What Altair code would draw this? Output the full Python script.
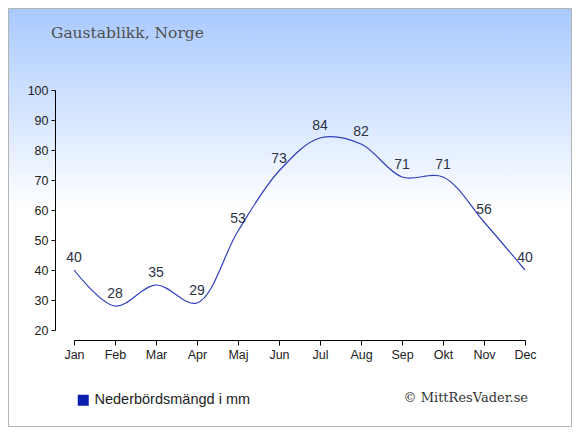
import altair as alt
import pandas as pd

months = ["Jan", "Feb", "Mar", "Apr", "Maj", "Jun", "Jul", "Aug", "Sep", "Okt", "Nov", "Dec"]
precip = [40, 28, 35, 29, 53, 73, 84, 82, 71, 71, 56, 40]
series_name = "Nederbördsmängd i mm"
title_text = "Gaustablikk, Norge"
credit_text = "© MittResVader.se"

df = pd.DataFrame({"idx": list(range(len(months))), "month": months, "value": precip,
                   "series": [series_name] * len(months)})

label_expr = "[" + ",".join(f"'{m}'" for m in months) + "][datum.value]"

axis_style = dict(grid=False, domainColor="#000", tickColor="#000", labelColor="#222",
                  labelFont="Liberation Sans", labelFontSize=12.5, labelPadding=3,
                  labelOverlap=False, labelBound=False, labelFlush=False, zindex=2)

xenc = alt.X("idx:Q", scale=alt.Scale(domain=[0, 11], nice=False, zero=False),
             axis=alt.Axis(title=None, values=list(range(12)), labelExpr=label_expr,
                           offset=10, tickSize=5, **axis_style))
yenc = alt.Y("value:Q", scale=alt.Scale(domain=[20, 100], nice=False, zero=False),
             axis=alt.Axis(title=None, values=list(range(20, 101, 10)), offset=19,
                           tickSize=4, **axis_style))

one = pd.DataFrame({"a": [0]})

bg = alt.Chart(one).mark_rect(
    fill=alt.Gradient(gradient="linear",
                      stops=[alt.GradientStop(color="#a8c9ff", offset=0),
                             alt.GradientStop(color="#ffffff", offset=0.48),
                             alt.GradientStop(color="#ffffff", offset=1)],
                      x1=0, x2=0, y1=0, y2=1),
    stroke="#b4b4b4", strokeWidth=1,
).encode(x=alt.value(-65.5), x2=alt.value(497.5), y=alt.value(-81.5), y2=alt.value(336.5))

line = alt.Chart(df).mark_line(interpolate="catmull-rom", strokeWidth=1.2).encode(
    x=xenc, y=yenc,
    color=alt.Color("series:N", scale=alt.Scale(range=["#3040c0"]),
                    legend=alt.Legend(title=None, orient="none", legendX=2, legendY=303,
                                      symbolType="square", symbolSize=121,
                                      symbolFillColor="#0b1fae", symbolStrokeColor="#0b1fae",
                                      symbolStrokeWidth=0, labelLimit=0,
                                      labelFont="Liberation Sans", labelFontSize=14.5,
                                      labelColor="#222", labelOffset=4)),
)

labels = alt.Chart(df).mark_text(baseline="bottom", dy=-5, font="Liberation Sans",
                                 fontSize=14, color="#2a3245").encode(
    x=xenc, y=yenc, text="value:Q")

title = alt.Chart(one).mark_text(align="left", baseline="alphabetic", font="DejaVu Serif",
                                 fontSize=15.5, color="#505050").encode(
    x=alt.value(-23), y=alt.value(-52), text=alt.value(title_text))

credit = alt.Chart(one).mark_text(align="right", baseline="alphabetic", font="DejaVu Serif",
                                  fontSize=13, color="#333333").encode(
    x=alt.value(454), y=alt.value(312), text=alt.value(credit_text))

chart = alt.layer(bg, line, labels, title, credit).properties(
    width=451, height=240,
    autosize=alt.AutoSizeParams(type="none"),
    padding={"left": 66, "top": 82, "right": 47, "bottom": 97},
).configure_view(stroke=None).configure(background="#ffffff")

chart.save("out.html", embed_options={"renderer": "svg", "actions": False})
